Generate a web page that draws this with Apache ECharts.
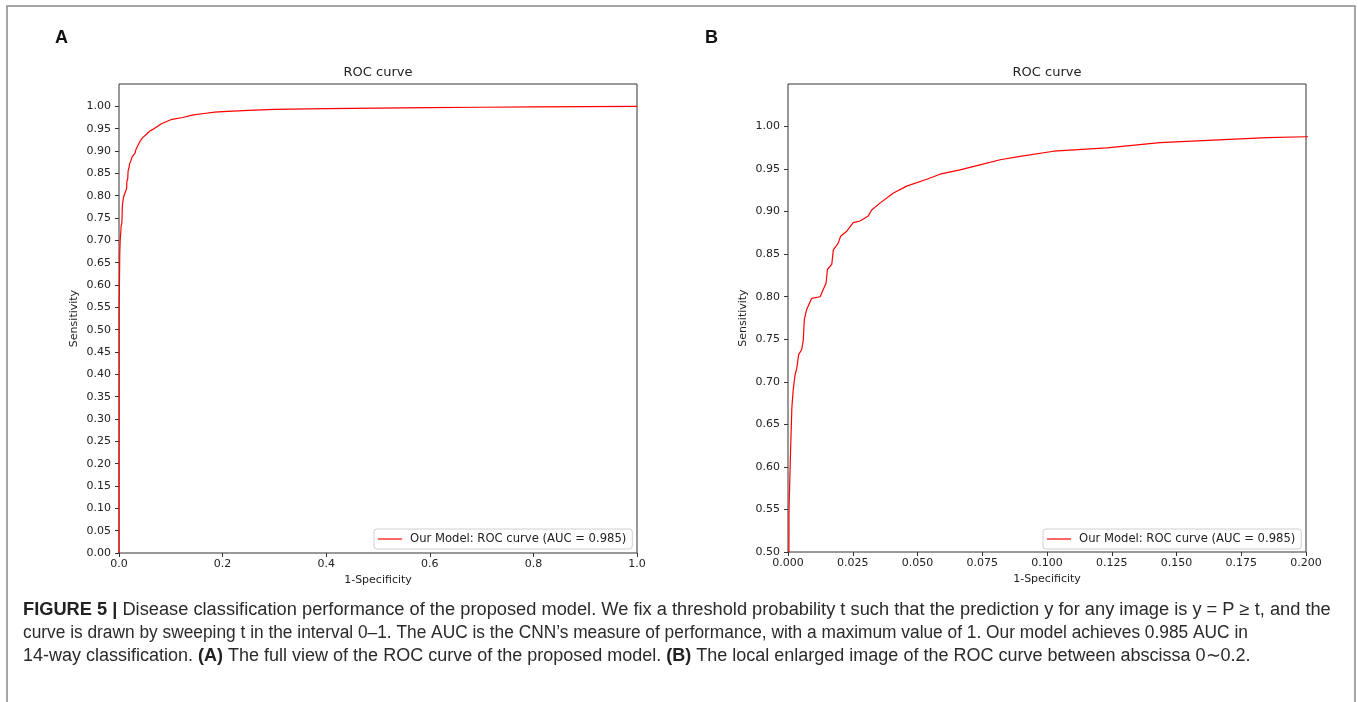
<!DOCTYPE html>
<html>
<head>
<meta charset="utf-8">
<script src="https://cdn.jsdelivr.net/npm/echarts@6/dist/echarts.min.js"></script>
<style>
  html, body { margin: 0; padding: 0; background: #fff; }
  #chart { width: 1358px; height: 702px; }
</style>
</head>
<body>
<div id="chart"></div>
<script>
// ROC 曲线数据 (1-Specificity, Sensitivity)，读自原图
var fpr = [0, 0.0004, 0.0004, 0.001, 0.001, 0.0015, 0.0015, 0.002, 0.0027, 0.0034,
    0.0041, 0.0053, 0.0059, 0.0063, 0.0072, 0.0091, 0.0124, 0.0147, 0.0152, 0.0169,
    0.0175, 0.0194, 0.0203, 0.0227, 0.0252, 0.0278, 0.0310, 0.0323, 0.0355, 0.0407,
    0.0458, 0.0536, 0.0587, 0.0664, 0.0741, 0.0819, 0.0896, 0.1025, 0.1231, 0.1436,
    0.1642, 0.1849, 0.2, 0.25, 0.3, 0.4, 0.5, 0.6, 0.7, 0.8, 0.9, 1.0];
var tpr = [0, 0, 0.55, 0.55, 0.62, 0.622, 0.67, 0.69, 0.708, 0.716,
    0.732, 0.738, 0.749, 0.773, 0.785, 0.798, 0.800, 0.816, 0.832, 0.838,
    0.855, 0.863, 0.871, 0.877, 0.887, 0.889, 0.895, 0.902, 0.910, 0.922,
    0.930, 0.938, 0.944, 0.949, 0.955, 0.961, 0.965, 0.971, 0.975, 0.981,
    0.984, 0.987, 0.988, 0.991, 0.993, 0.995, 0.996, 0.997, 0.998, 0.999, 0.9995, 1.0];

// 刻度
var xTicksA = [0, 0.2, 0.4, 0.6, 0.8, 1.0];
var yTicksA = [0, 0.05, 0.1, 0.15, 0.2, 0.25, 0.3, 0.35, 0.4, 0.45, 0.5,
    0.55, 0.6, 0.65, 0.7, 0.75, 0.8, 0.85, 0.9, 0.95, 1.0];
var xTicksB = [0, 0.025, 0.05, 0.075, 0.1, 0.125, 0.15, 0.175, 0.2];
var yTicksB = [0.5, 0.55, 0.6, 0.65, 0.7, 0.75, 0.8, 0.85, 0.9, 0.95, 1.0];

var seriesName = 'Our Model: ROC curve (AUC = 0.985)';
var panelTitle = 'ROC curve';
var xName = '1-Specificity';
var yName = 'Sensitivity';

var capLine1 = [['b', 'FIGURE 5 |'], ['n', ' Disease classification performance of the proposed model. We fix a threshold probability t such that the prediction y for any image is y = P \u2265 t, and the']];
var capLine2 = [['n', 'curve is drawn by sweeping t in the interval 0\u20131. The AUC is the CNN\u2019s measure of performance, with a maximum value of 1. Our model achieves 0.985 AUC in']];
var capLine3 = [['n', '14-way classification. '], ['b', '(A)'], ['n', ' The full view of the ROC curve of the proposed model. '], ['b', '(B)'], ['n', ' The local enlarged image of the ROC curve between abscissa 0\u223C0.2.']];

var FONT = 'DejaVu Sans';
var CAP_FONT = 'Liberation Sans';

var rocData = fpr.map(function (x, i) { return [x, tpr[i]]; });

function makeX(idx, max, ticks, digits) {
    return {
        type: 'value', gridIndex: idx, min: 0, max: max,
        name: xName, nameLocation: 'middle', nameGap: 21,
        nameTextStyle: { fontFamily: FONT, fontSize: 11, color: '#222' },
        axisLine: { show: false },
        axisTick: { show: true, length: 4, customValues: ticks, lineStyle: { color: '#333' } },
        axisLabel: {
            customValues: ticks, margin: 6, fontFamily: FONT, fontSize: 11, color: '#222',
            formatter: function (v) { return v.toFixed(digits); }
        },
        splitLine: { show: false }
    };
}

function makeY(idx, min, ticks) {
    return {
        type: 'value', gridIndex: idx, min: min, max: 1.05,
        name: yName, nameLocation: 'middle', nameGap: 39,
        nameTextStyle: { fontFamily: FONT, fontSize: 11, color: '#222' },
        axisLine: { show: false },
        axisTick: { show: true, length: 4, customValues: ticks, lineStyle: { color: '#333' } },
        axisLabel: {
            customValues: ticks, margin: 8, fontFamily: FONT, fontSize: 11, color: '#222',
            formatter: function (v) { return v.toFixed(2); }
        },
        splitLine: { show: false }
    };
}

function makeLegend(left) {
    return {
        data: [seriesName], left: left, top: 529,
        orient: 'horizontal',
        backgroundColor: '#fff', borderColor: '#d0d0d0', borderWidth: 1, borderRadius: 3,
        padding: [4, 6, 4, 4],
        icon: 'rect', itemWidth: 24, itemHeight: 1.2,
        textStyle: { fontFamily: FONT, fontSize: 11.6, color: '#222', padding: [0, 0, 0, 3] }
    };
}

function richLine(parts) {
    return parts.map(function (p) {
        return '{' + p[0] + '|' + p[1] + '}';
    }).join('');
}

// 图注一行，sx 用来贴合原图的行宽
function capText(y, parts, sx) {
    return {
        type: 'text', x: 23, y: y, scaleX: sx, silent: true,
        style: {
            text: richLine(parts),
            verticalAlign: 'top',
            rich: {
                b: { fontFamily: CAP_FONT, fontSize: 18, fontWeight: 'bold', fill: '#222' },
                n: { fontFamily: CAP_FONT, fontSize: 18, fill: '#2a2a2a' }
            }
        }
    };
}

var chart = echarts.init(document.getElementById('chart'), null, { renderer: 'canvas' });

var option = {
    backgroundColor: '#fff',
    animation: false,
    grid: [
        { left: 119, top: 84, width: 518, height: 469, show: true, borderColor: '#333', borderWidth: 1 },
        { left: 788, top: 84, width: 518, height: 468, show: true, borderColor: '#333', borderWidth: 1 }
    ],
    xAxis: [makeX(0, 1, xTicksA, 1), makeX(1, 0.2, xTicksB, 3)],
    yAxis: [makeY(0, 0, yTicksA), makeY(1, 0.5, yTicksB)],
    legend: [makeLegend(374), makeLegend(1043)],
    series: [
        { name: seriesName, type: 'line', xAxisIndex: 0, yAxisIndex: 0, data: rocData,
          symbol: 'none', clip: true, lineStyle: { color: '#ff0000', width: 1.2 }, itemStyle: { color: '#ff0000' } },
        { name: seriesName, type: 'line', xAxisIndex: 1, yAxisIndex: 1, data: rocData,
          symbol: 'none', clip: true, lineStyle: { color: '#ff0000', width: 1.2 }, itemStyle: { color: '#ff0000' } }
    ],
    graphic: [
        // 外框
        { type: 'rect', shape: { x: 7, y: 6, width: 1348, height: 720 },
          style: { fill: 'none', stroke: '#8a8a8a', lineWidth: 1.5 }, silent: true },
        { type: 'text', left: 55, top: 29, style: { text: 'A', fontFamily: CAP_FONT, fontSize: 18, fontWeight: 'bold', fill: '#111' } },
        { type: 'text', left: 705, top: 29, style: { text: 'B', fontFamily: CAP_FONT, fontSize: 18, fontWeight: 'bold', fill: '#111' } },
        { type: 'text', x: 378, y: 73, style: { text: panelTitle, fontFamily: FONT, fontSize: 13, fill: '#222', align: 'center', verticalAlign: 'middle' } },
        { type: 'text', x: 1047, y: 73, style: { text: panelTitle, fontFamily: FONT, fontSize: 13, fill: '#222', align: 'center', verticalAlign: 'middle' } },
        capText(601, capLine1, 1.014),
        capText(624, capLine2, 0.962),
        capText(647, capLine3, 1.0)
    ]
};

chart.setOption(option);
</script>
</body>
</html>
